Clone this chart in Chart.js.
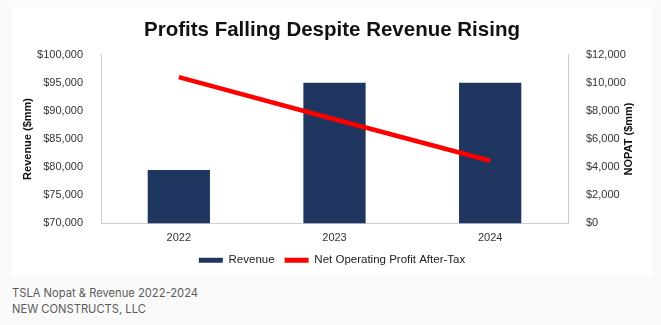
<!DOCTYPE html>
<html>
<head>
<meta charset="utf-8">
<script src="https://cdn.jsdelivr.net/npm/chart.js@4.4.1/dist/chart.umd.min.js"></script>
<style>
  html, body { margin: 0; padding: 0; background: #fafafa; }
  body { width: 661px; height: 325px; position: relative; overflow: hidden; }
  #card { position: absolute; left: 12px; top: 7px; width: 640px; height: 269px; background: #fff; }
  #caption { position: absolute; left: 12px; top: 285px; font-family: Inter, "Noto Sans", sans-serif; font-size: 11.2px; line-height: 16px; color: #5a5a5a; }
</style>
</head>
<body>
<div id="card"><canvas id="chart" width="640" height="269"></canvas></div>
<div id="caption">TSLA Nopat &amp; Revenue 2022-2024<br>NEW CONSTRUCTS, LLC</div>
<script>
// Data
const years = ['2022', '2023', '2024'];
const revenue = [79500, 95000, 95000];
const nopat = [10400, 7400, 4450];

const revTicks = { min: 70000, max: 100000, step: 5000 };
const nopatTicks = { min: 0, max: 12000, step: 2000 };

const money = v => '$' + v.toLocaleString('en-US');
const tickFont = { family: 'Liberation Sans, Arial', size: 11 };
const axisTitleFont = { family: 'Liberation Sans, Arial', size: 11, weight: 'bold' };

// right axis title reads bottom-to-top in the original, so draw it ourselves
const rightTitle = {
    id: 'rightTitle',
    afterDraw(chart) {
        const s = chart.scales.y1;
        const c = chart.ctx;
        c.save();
        c.translate(s.right - 23, (s.top + s.bottom) / 2);
        c.rotate(-Math.PI / 2);
        c.font = 'bold 11px "Liberation Sans", Arial';
        c.fillStyle = '#111';
        c.textAlign = 'center';
        c.textBaseline = 'middle';
        c.fillText('NOPAT ($mm)', 0, 0);
        c.restore();
    }
};

const ctx = document.getElementById('chart').getContext('2d');
new Chart(ctx, {
    type: 'bar',
    data: {
        labels: years,
        datasets: [{
            label: 'Revenue',
            data: revenue,
            backgroundColor: '#1f3661',
            yAxisID: 'y',
            order: 2,
            categoryPercentage: 1,
            barPercentage: 0.4
        }, {
            type: 'line',
            label: 'Net Operating Profit After-Tax',
            data: nopat,
            borderColor: '#ff0000',
            backgroundColor: '#ff0000',
            borderWidth: 4.5,
            pointRadius: 0,
            tension: 0,
            yAxisID: 'y1',
            order: 1
        }]
    },
    options: {
        responsive: false,
        animation: false,
        layout: { padding: 0 },
        plugins: {
            title: {
                display: true,
                text: 'Profits Falling Despite Revenue Rising',
                color: '#111',
                font: { family: 'Liberation Sans, Arial', size: 20.5, weight: 'bold' },
                padding: { top: 11, bottom: 12 }
            },
            legend: {
                position: 'bottom',
                labels: {
                    color: '#222',
                    font: { family: 'Liberation Sans, Arial', size: 11.5 },
                    boxWidth: 24,
                    boxHeight: 5,
                    padding: 10,
                    sort: (a, b) => a.datasetIndex - b.datasetIndex,
                    generateLabels(chart) {
                        const items = Chart.defaults.plugins.legend.labels.generateLabels(chart);
                        items.forEach(it => { it.lineWidth = 0; });
                        return items;
                    }
                }
            },
            tooltip: { enabled: false }
        },
        scales: {
            x: {
                grid: { display: false },
                border: { color: '#cfcfcf' },
                ticks: { color: '#333', font: tickFont, padding: 0 }
            },
            y: {
                position: 'left',
                min: revTicks.min,
                max: revTicks.max,
                grid: { display: false },
                border: { color: '#cfcfcf' },
                ticks: { stepSize: revTicks.step, color: '#333', font: tickFont, padding: 10, callback: money },
                title: { display: true, text: 'Revenue ($mm)', color: '#111', font: axisTitleFont, padding: { top: 9, bottom: 0 } },
                afterFit(scale) { scale.width = 89; }
            },
            y1: {
                position: 'right',
                min: nopatTicks.min,
                max: nopatTicks.max,
                grid: { display: false },
                border: { color: '#cfcfcf' },
                ticks: { stepSize: nopatTicks.step, color: '#333', font: tickFont, padding: 10, callback: money },
                afterFit(scale) { scale.width = 84; }
            }
        }
    },
    plugins: [rightTitle]
});
</script>
</body>
</html>
